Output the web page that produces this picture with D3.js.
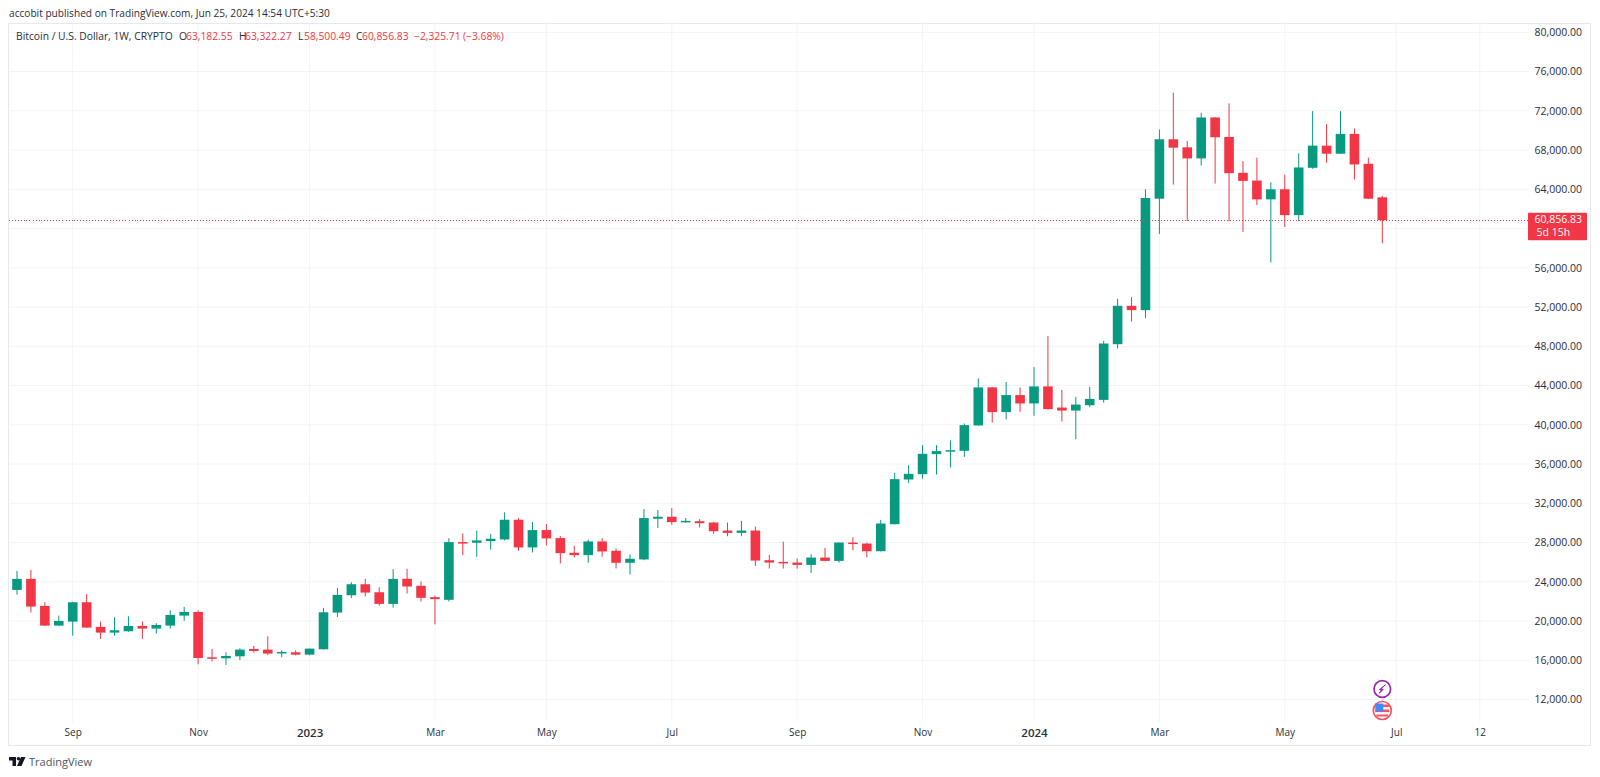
<!DOCTYPE html>
<html>
<head>
<meta charset="utf-8">
<title>BTCUSD 1W</title>
<script src="https://cdn.jsdelivr.net/npm/d3@7"></script>
<style>
html, body { margin: 0; padding: 0; background: #fff; }
svg { display: block; }
text { font-family: "Open Sans", "Noto Sans", sans-serif; }
</style>
</head>
<body>
<div id="chart"></div>
<script>
// weekly candles, first bar is the week of Aug 8 2022
var firstWeek = '2022-08-08';
var opens = [23174,24296,21542,19536,19944,21916,19400,18822,18958,19502,19230,19536,20556,20930,16306,16204,16408,17156,17088,16748,16816,16578,17122,20862,22630,23752,22936,21746,
    24306,23592,22436,22164,28046,27978,28148,28318,30324,27502,29270,28454,26958,26720,28114,27162,25938,26278,30426,30630,30074,
    30176,30040,29224,28986,29224,26198,26028,25960,25722,26470,26130,28000,27898,27116,29870,34426,34970,37010,37350,37350,39934,43810,41294,43028,42178,43912,
    41756,41450,41994,42538,48216,52126,51684,63044,69097,68276,67148,71320,69336,65677,64890,62975,64000,61368,66190,68447,67627,69644,66600,63182.55];
var highs = [25112,25214,21916,20556,21950,22766,19944,20386,20488,19944,19774,21100,21440,21100,17156,16816,17224,17462,18448,17020,17020,17190,21338,23378,23956,24296,23446,25282,
    25326,24034,22606,28454,28930,29202,28862,31072,30494,30086,29882,28658,27672,28284,28454,27400,26788,31412,31310,31514,30500,
    30380,30100,30040,30210,29632,26742,28102,26368,26810,27456,28000,28544,28000,30312,35106,35888,37928,37928,38404,40138,44728,43850,44354,43810,45884,49032,
    43558,42844,43864,48556,52840,53010,64000,70089,73851,68926,71800,71350,72757,66874,67216,64720,65472,67660,71970,70636,71970,70192,67216,63322.27];
var lows = [22698,20862,19500,19500,18516,19300,18176,18516,18900,18176,18720,19230,20012,15592,15864,15524,16034,16782,16544,16306,16510,16510,17100,20420,22358,22528,21576,21372,
    22810,21994,19664,21994,26720,26550,27264,28216,27162,26992,27706,25870,26482,25938,26550,25360,24748,26200,29474,29814,30000,
    29530,28884,28646,28646,25620,25348,25348,25348,24906,26100,25960,27218,26504,27100,29850,34052,34494,34936,35650,36738,39900,40206,40546,41328,40920,41552,
    40328,38526,41790,42266,47774,50528,50868,59453,64480,60752,66430,64583,60752,59658,62394,56546,60171,60752,66088,66703,67600,64993,63000,58500.49];
var closes = [24296,21474,19536,20012,21916,19332,18822,19060,19502,19230,19604,20624,20930,16238,16170,16442,17088,16952,16680,16850,16578,17190,20896,22664,23752,22902,21746,24296,
    23524,22368,22232,28046,27978,28216,28386,30324,27502,29270,28420,26924,26720,28114,27094,25938,26346,30494,30630,30086,30210,
    29972,29156,28986,29224,26164,25960,25926,25722,26470,26130,28000,27932,27116,29938,34460,35004,37044,37316,37418,39968,43810,41294,43028,42178,43912,41600,
    41450,42062,42640,48284,52126,51684,63112,69097,68242,67148,71320,69302,65643,64856,62975,64000,61368,66224,68447,67627,69644,66532,63044,60856.83];

var priceTicks = [12000,16000,20000,24000,28000,32000,36000,40000,44000,48000,52000,56000,60000,64000,68000,72000,76000,80000];
var hiddenPriceLabels = [60000]; // sits behind the last price tag
var timeTicks = ['2022-09-05','2022-11-07','2023-01-02','2023-03-06','2023-05-01','2023-07-03','2023-09-04','2023-11-06','2024-01-01','2024-03-04','2024-05-06','2024-07-01','2024-08-12'];
var timeLabels = ['Sep','Nov','2023','Mar','May','Jul','Sep','Nov','2024','Mar','May','Jul','12'];
var boldLabels = ['2023','2024'];

var lastClose = 60856.83;
var lastChange = '\u22122,325.71';
var lastChangePct = '(\u22123.68%)';
var countdown = '5d 15h';
var publishedText = 'accobit published on TradingView.com, Jun 25, 2024 14:54 UTC+5:30';
var symbolText = 'Bitcoin / U.S. Dollar, 1W, CRYPTO';

var upColor = '#089981', downColor = '#f23645';
var gridColor = '#f3f4f6', frameColor = '#e6e8f0', textColor = '#2a2e39';

var width = 1600, height = 777;
var paneLeft = 8.5, paneRight = 1529, paneTop = 23.5, paneBottom = 722;
var frameRight = 1590.5, frameBottom = 745.5;
var bodyWidth = 9.6;

var parseDay = d3.utcParse('%Y-%m-%d');
var weeks = opens.map(function(d, i) {
    return d3.utcWeek.offset(parseDay(firstWeek), i);
});

var x = d3.scaleUtc()
    .domain([parseDay(firstWeek), weeks[weeks.length - 1]])
    .range([17, 1382.3]);
var y = d3.scaleLinear()
    .domain([16000, 72000])
    .range([660.3, 110.8]);

var svg = d3.select('#chart').append('svg')
    .attr('width', width)
    .attr('height', height);

// frame
svg.append('rect')
    .attr('x', paneLeft).attr('y', paneTop)
    .attr('width', frameRight - paneLeft).attr('height', frameBottom - paneTop)
    .attr('fill', 'none').attr('stroke', frameColor);

// grid
svg.append('g').selectAll('line')
    .data(priceTicks)
    .enter().append('line')
    .attr('x1', paneLeft).attr('x2', paneRight)
    .attr('y1', function(d) { return y(d); })
    .attr('y2', function(d) { return y(d); })
    .attr('stroke', gridColor);
svg.append('g').selectAll('line')
    .data(timeTicks)
    .enter().append('line')
    .attr('x1', function(d) { return x(parseDay(d)); })
    .attr('x2', function(d) { return x(parseDay(d)); })
    .attr('y1', paneTop).attr('y2', paneBottom)
    .attr('stroke', gridColor);

// axes
var priceAxis = d3.axisRight(y)
    .tickValues(priceTicks.filter(function(d) { return hiddenPriceLabels.indexOf(d) < 0; }))
    .tickSize(0)
    .tickPadding(0)
    .tickFormat(d3.format(',.2f'));
var priceG = svg.append('g')
    .attr('transform', 'translate(1582,0)')
    .call(priceAxis);
priceG.select('.domain').remove();
priceG.selectAll('text')
    .attr('text-anchor', 'end')
    .attr('x', 0)
    .attr('font-size', 10.5)
    .attr('fill', textColor);

var timeAxis = d3.axisBottom(x)
    .tickValues(timeTicks.map(parseDay))
    .tickSize(0)
    .tickPadding(0)
    .tickFormat(function(d, i) { return timeLabels[i]; });
var timeG = svg.append('g')
    .attr('transform', 'translate(0,729)')
    .call(timeAxis);
timeG.select('.domain').remove();
timeG.selectAll('text')
    .attr('font-size', function(d, i) { return boldLabels.indexOf(timeLabels[i]) >= 0 ? 11.5 : 10; })
    .attr('font-weight', function(d, i) { return boldLabels.indexOf(timeLabels[i]) >= 0 ? 600 : 400; })
    .attr('fill', textColor);

// candles
function candleColor(i) {
    return closes[i] >= opens[i] ? upColor : downColor;
}
var candles = svg.append('g').selectAll('g')
    .data(weeks)
    .enter().append('g');
candles.append('line')
    .attr('x1', function(d) { return x(d); })
    .attr('x2', function(d) { return x(d); })
    .attr('y1', function(d, i) { return y(highs[i]); })
    .attr('y2', function(d, i) { return y(lows[i]); })
    .attr('stroke', function(d, i) { return candleColor(i); })
    .attr('stroke-width', 1);
candles.append('rect')
    .attr('x', function(d) { return x(d) - bodyWidth / 2; })
    .attr('width', bodyWidth)
    .attr('y', function(d, i) { return y(Math.max(opens[i], closes[i])); })
    .attr('height', function(d, i) {
        return Math.max(1.5, Math.abs(y(opens[i]) - y(closes[i])));
    })
    .attr('fill', function(d, i) { return candleColor(i); });

// last price line and label
svg.append('line')
    .attr('x1', paneLeft).attr('x2', paneRight)
    .attr('y1', Math.floor(y(lastClose)) + 0.5).attr('y2', Math.floor(y(lastClose)) + 0.5)
    .attr('stroke', downColor)
    .attr('stroke-width', 1)
    .attr('shape-rendering', 'crispEdges')
    .attr('stroke-dasharray', '1 2');
svg.append('rect')
    .attr('x', 1528).attr('width', 59)
    .attr('y', y(lastClose) - 7.5).attr('height', 27.5)
    .attr('rx', 1)
    .attr('fill', downColor);
svg.append('text')
    .attr('x', 1582).attr('y', y(lastClose) + 3)
    .attr('text-anchor', 'end')
    .attr('font-size', 10.5)
    .attr('fill', '#fff')
    .text(d3.format(',.2f')(lastClose));
svg.append('text')
    .attr('x', 1536.5).attr('y', y(lastClose) + 16)
    .attr('font-size', 10.5)
    .attr('fill', '#fff')
    .text(countdown);

// header texts
svg.append('text')
    .attr('x', 9).attr('y', 17)
    .attr('font-size', 10.15)
    .attr('fill', textColor)
    .text(publishedText);

var lastO = opens[opens.length - 1], lastH = highs[highs.length - 1], lastL = lows[lows.length - 1];
var fmt = d3.format(',.2f');
var legendItems = [
    { t: symbolText, x: 16, c: textColor },
    { t: 'O', x: 179, c: textColor },
    { t: fmt(lastO), x: 186, c: downColor },
    { t: 'H', x: 239, c: textColor },
    { t: fmt(lastH), x: 245, c: downColor },
    { t: 'L', x: 298, c: textColor },
    { t: fmt(lastL), x: 304, c: downColor },
    { t: 'C', x: 356, c: textColor },
    { t: fmt(lastClose), x: 362, c: downColor },
    { t: lastChange, x: 414, c: downColor },
    { t: lastChangePct, x: 463, c: downColor }
];
svg.append('g').selectAll('text')
    .data(legendItems)
    .enter().append('text')
    .attr('x', function(d) { return d.x; })
    .attr('y', 40)
    .attr('font-size', 10.3)
    .attr('fill', function(d) { return d.c; })
    .text(function(d) { return d.t; });

// event markers under the last bar
var markerX = x(weeks[weeks.length - 1]);
var bolt = svg.append('g').attr('transform', 'translate(' + markerX + ',689)');
bolt.append('circle').attr('r', 8.3).attr('fill', '#fff').attr('stroke', '#9c27b0').attr('stroke-width', 1.7);
bolt.append('path').attr('d', 'M3.2,-4.2 L-1,-0.5 L1,0.5 L-3.2,4.2 L-1,1.5 L-2.8,0.5 Z')
    .attr('fill', '#9c27b0').attr('stroke', '#9c27b0').attr('stroke-width', 0.9);

var flag = svg.append('g').attr('transform', 'translate(' + markerX + ',710.5)');
flag.append('circle').attr('r', 9).attr('fill', '#fff').attr('stroke', '#f7525f').attr('stroke-width', 1.7);
flag.append('rect').attr('x', -7).attr('y', -6).attr('width', 14).attr('height', 2.6).attr('fill', '#f7525f');
flag.append('rect').attr('x', -7).attr('y', -1).attr('width', 14).attr('height', 2.6).attr('fill', '#f7525f');
flag.append('rect').attr('x', -6).attr('y', 4).attr('width', 12).attr('height', 2).attr('fill', '#f7525f');
flag.append('rect').attr('x', -7).attr('y', -7).attr('width', 8).attr('height', 8).attr('fill', '#3d8bfd');

// TradingView logo
var logo = svg.append('g').attr('transform', 'translate(9,757)').attr('fill', '#131722');
logo.append('path').attr('d', 'M0,0 H7 V9 H3.5 V3.5 H0 Z');
logo.append('circle').attr('cx', 9.5).attr('cy', 1.8).attr('r', 1.8);
logo.append('path').attr('d', 'M12,0 H16.5 L12.5,9 H8 Z');
svg.append('text')
    .attr('x', 29).attr('y', 766)
    .attr('font-size', 11)
    .attr('fill', '#50535e')
    .text('TradingView');
</script>
</body>
</html>
